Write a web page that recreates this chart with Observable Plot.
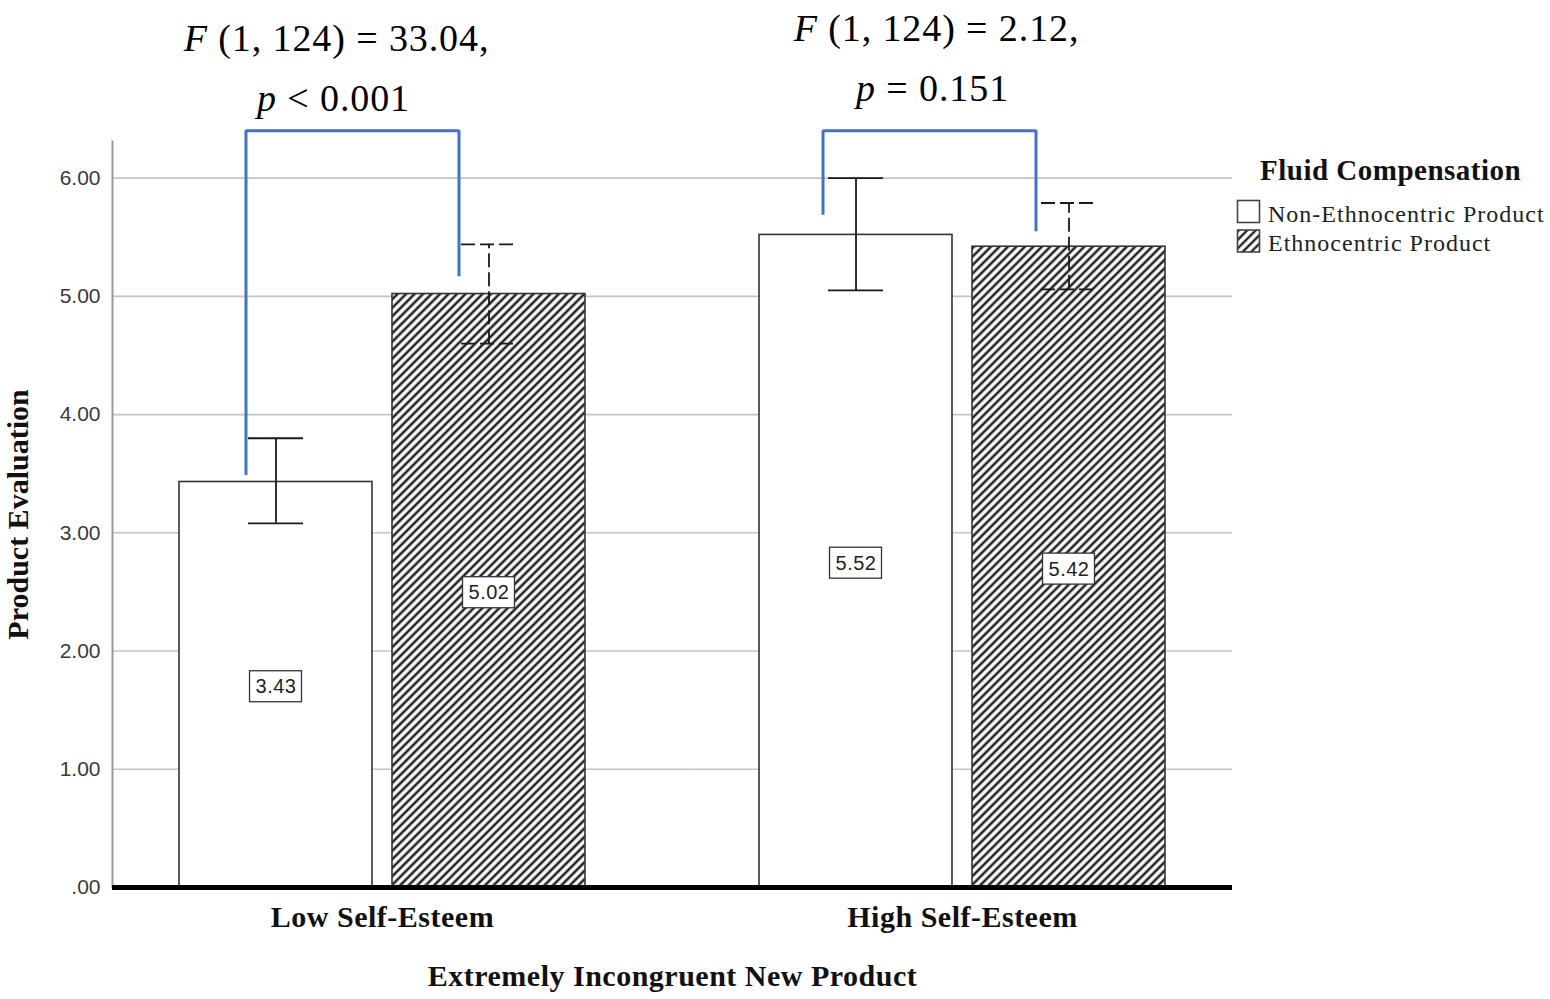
<!DOCTYPE html>
<html>
<head>
<meta charset="utf-8">
<script src="https://cdn.jsdelivr.net/npm/d3@7"></script>
<script src="https://cdn.jsdelivr.net/npm/@observablehq/plot@0.6"></script>
<style>
  html, body { margin: 0; padding: 0; background: #fff; }
  #wrap { position: relative; width: 1550px; height: 999px; overflow: hidden; }
  #legend { position: absolute; left: 1230px; top: 150px; }
  g[aria-label="y-axis label"] text { font-family: "Liberation Serif", serif; font-weight: bold; font-size: 30px; fill: #111; }
  g[aria-label="fx-axis tick label"] text, g[aria-label="fx-axis label"] text { letter-spacing: 0.5px; }
</style>
</head>
<body>
<div id="wrap"></div>
<script>
// ---- data ----
const groups = ["Low Self-Esteem", "High Self-Esteem"];
const seriesNames = ["Non-Ethnocentric Product", "Ethnocentric Product"];
const meanNon = [3.43, 5.52];
const meanEth = [5.02, 5.42];
const ciLowNon = [3.08, 5.05];
const ciHighNon = [3.80, 6.00];
const ciLowEth = [4.60, 5.06];
const ciHighEth = [5.44, 5.79];
const yTicks = [0, 1, 2, 3, 4, 5, 6];
const yTickLabels = [".00", "1.00", "2.00", "3.00", "4.00", "5.00", "6.00"];
const yMax = 6.31;
const statLine1 = ["F (1, 124) = 33.04,", "F (1, 124) = 2.12,"];
const statLine2 = ["p < 0.001", "p = 0.151"];
const bracketStart = [3.49, 5.69];
const bracketEnd = [5.17, 5.55];
const bracketTop = [6.40, 6.40];
const legendTitle = "Fluid Compensation";
const xTitle = "Extremely Incongruent New Product";
const yTitle = "Product Evaluation";

// ---- tables built from the arrays ----
const rows = [];
groups.forEach((g, i) => {
  rows.push({group: g, series: seriesNames[0], mean: meanNon[i], lo: ciLowNon[i], hi: ciHighNon[i]});
  rows.push({group: g, series: seriesNames[1], mean: meanEth[i], lo: ciLowEth[i], hi: ciHighEth[i]});
});
const nonRows = rows.filter(d => d.series === seriesNames[0]);
const ethRows = rows.filter(d => d.series === seriesNames[1]);

const bracketPts = groups.map((g, i) => [
  {group: g, series: seriesNames[0], v: bracketStart[i]},
  {group: g, series: seriesNames[0], v: bracketTop[i]},
  {group: g, series: seriesNames[1], v: bracketTop[i]},
  {group: g, series: seriesNames[1], v: bracketEnd[i]}
]);
const stats = groups.map((g, i) => ({group: g, l1: statLine1[i], l2: statLine2[i]}));
const gridRows = groups.map(g => yTicks.map(v => ({group: g, v})));
const baseRows = groups.map(g => [{group: g, v: 0}]);

const ink = "#1a1a1a";
const blue = "#4472C4";
const facetGap = 40;

function errorBars(data, dash) {
  const common = {fx: "group", x: "series", stroke: ink, strokeWidth: 1.8, strokeDasharray: dash};
  return [
    Plot.ruleX(data, {...common, y1: "lo", y2: "hi"}),
    Plot.tickY(data, {...common, y: "lo", insetLeft: 69, insetRight: 69}),
    Plot.tickY(data, {...common, y: "hi", insetLeft: 69, insetRight: 69})
  ];
}

const bracketDx = [-30, -33];
const statDx1 = [-46, -26];
const statDx2 = [-49, -30];
const statDy1 = [-103, -113];
const statDy2 = [-43, -53];

const statMarks = [];
stats.forEach((s, i) => {
  const base = {fx: "group", frameAnchor: "top", fontFamily: "Liberation Serif", fontSize: 38, fill: "#000", lineAnchor: "middle"};
  statMarks.push(Plot.text([s], {...base, text: "l1", dx: statDx1[i], dy: statDy1[i]}));
  statMarks.push(Plot.text([s], {...base, text: "l2", dx: statDx2[i], dy: statDy2[i]}));
});

const bracketMarks = bracketPts.map((pts, i) =>
  Plot.line(pts, {fx: "group", x: "series", y: "v", dx: bracketDx[i], stroke: blue, strokeWidth: 3, strokeLinejoin: "miter", strokeLinecap: "butt"})
);

const gridMarks = gridRows.map((gr, i) =>
  Plot.ruleY(gr, {fx: "group", y: "v", stroke: "#c4c4c4", strokeWidth: 1.6, insetRight: i === 0 ? -facetGap : 0})
);
const baseMarks = baseRows.map((br, i) =>
  Plot.ruleY(br, {fx: "group", y: "v", stroke: "#000", strokeWidth: 5, insetRight: i === 0 ? -facetGap : 0})
);

const chart = Plot.plot({
  width: 1550,
  height: 999,
  marginLeft: 112,
  marginRight: 318,
  marginTop: 141,
  marginBottom: 112,
  style: {background: "white"},
  fx: {domain: groups, paddingInner: 0.069, paddingOuter: 0, round: false, axis: null},
  x: {domain: seriesNames, paddingInner: 0.094, paddingOuter: 0.3146, round: false, axis: null},
  y: {domain: [0, yMax], axis: null},
  marks: [
    ...gridMarks,
    Plot.frame({anchor: "left", facet: "super", stroke: "#9a9a9a", strokeWidth: 2}),
    Plot.barY(nonRows, {fx: "group", x: "series", y: "mean", fill: "white", stroke: "#333", strokeWidth: 1.6}),
    Plot.barY(ethRows, {fx: "group", x: "series", y: "mean", fill: "url(#hatch)", stroke: "#333", strokeWidth: 1.6}),
    Plot.barY(rows, {fx: "group", x: "series", y1: d => d.mean / 2, y2: d => d.mean / 2,
      insetLeft: 70.5, insetRight: 70.5, insetTop: -15.5, insetBottom: -15.5, dy: 2, fill: "white", stroke: "#333", strokeWidth: 1.3}),
    Plot.text(rows, {fx: "group", x: "series", y: d => d.mean / 2, dy: 2, text: d => d.mean.toFixed(2),
      fontFamily: "Liberation Sans", fontSize: 20, fill: "#222"}),
    ...errorBars(nonRows, undefined),
    ...errorBars(ethRows, "14,5"),
    ...bracketMarks,
    ...baseMarks,
    Plot.axisY(yTicks, {anchor: "left", tickSize: 0, tickPadding: 12, tickFormat: d => yTickLabels[yTicks.indexOf(d)],
      fontFamily: "Liberation Sans", fontSize: 21, fill: "#3a3a3a",
      label: yTitle, labelAnchor: "center", labelOffset: 106, labelArrow: "none"}),
    Plot.axisFx({anchor: "bottom", tickSize: 0, tickPadding: 18, fontFamily: "Liberation Serif", fontWeight: "bold", fontSize: 30, fill: "#111",
      label: xTitle, labelAnchor: "center", labelOffset: 98, labelArrow: "none"}),
    ...statMarks
  ]
});

// hatch pattern
const defs = d3.select(chart).insert("defs", ":first-child");
const pat = defs.append("pattern").attr("id", "hatch").attr("patternUnits", "userSpaceOnUse")
  .attr("width", 6).attr("height", 6).attr("patternTransform", "rotate(45)");
pat.append("rect").attr("width", 6).attr("height", 6).attr("fill", "white");
pat.append("line").attr("x1", 3).attr("y1", -1).attr("x2", 3).attr("y2", 7).attr("stroke", "#222").attr("stroke-width", 2.6);

// italic statistic symbols (F, p) and letter spacing
const statTexts = new Set([...statLine1, ...statLine2]);
const valueTexts = new Set(rows.map(d => d.mean.toFixed(2)));
d3.select(chart).selectAll("text").each(function () {
  const t = this.textContent;
  if (statTexts.has(t)) {
    this.textContent = "";
    this.setAttribute("letter-spacing", "0.9px");
    d3.select(this).append("tspan").attr("font-style", "italic").text(t.charAt(0));
    d3.select(this).append("tspan").text(t.slice(1));
  } else if (valueTexts.has(t)) {
    this.setAttribute("letter-spacing", "0.5px");
  }
});

document.getElementById("wrap").appendChild(chart);

// legend
const legendSvg = d3.select("#wrap").append("svg").attr("id", "legend").attr("width", 320).attr("height", 120);
const ldefs = legendSvg.append("defs");
const lpat = ldefs.append("pattern").attr("id", "hatchLegend").attr("patternUnits", "userSpaceOnUse")
  .attr("width", 6).attr("height", 6).attr("patternTransform", "rotate(45)");
lpat.append("rect").attr("width", 6).attr("height", 6).attr("fill", "white");
lpat.append("line").attr("x1", 3).attr("y1", -1).attr("x2", 3).attr("y2", 7).attr("stroke", "#222").attr("stroke-width", 2.4);
legendSvg.append("text").attr("x", 30).attr("y", 30)
  .attr("font-family", "Liberation Serif").attr("font-weight", "bold").attr("font-size", 29)
  .attr("letter-spacing", "0.5px").attr("fill", "#111").text(legendTitle);
const swFill = ["white", "url(#hatchLegend)"];
seriesNames.forEach((s, i) => {
  legendSvg.append("rect").attr("x", 7.5).attr("y", 50.5 + i * 29.5).attr("width", 22).attr("height", 22)
    .attr("fill", swFill[i]).attr("stroke", "#444").attr("stroke-width", 1.6);
  legendSvg.append("text").attr("x", 38).attr("y", 72 + i * 29)
    .attr("font-family", "Liberation Serif").attr("font-size", 24).attr("letter-spacing", "1px")
    .attr("fill", "#222").text(s);
});
</script>
</body>
</html>
